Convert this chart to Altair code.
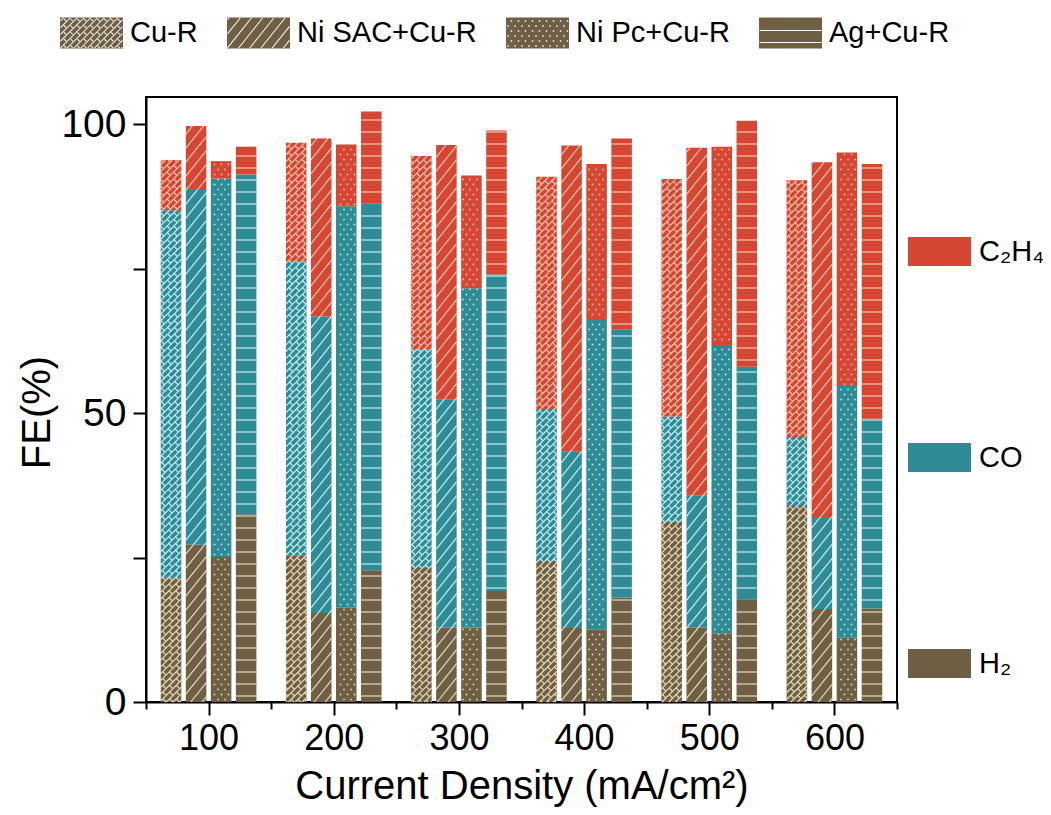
import math
import altair as alt
import numpy as np
import pandas as pd

# ---------------- data ----------------
densities = [100, 200, 300, 400, 500, 600]
catalysts = ["Cu-R", "Ni SAC+Cu-R", "Ni Pc+Cu-R", "Ag+Cu-R"]
products = ["H₂", "CO", "C₂H₄"]          # stacking order bottom -> top

h2_cur = [21.5, 25.4, 23.2, 24.4, 31.2, 33.9]
co_cur = [63.6, 50.8, 37.8, 26.3, 18.2, 11.8]
c2h4_cur = [8.7, 20.6, 33.5, 40.2, 41.1, 44.6]

h2_nisac = [27.2, 15.4, 12.9, 12.8, 12.9, 16.1]
co_nisac = [61.4, 51.3, 39.4, 30.5, 22.9, 15.9]
c2h4_nisac = [11.1, 30.8, 44.1, 53.0, 60.1, 61.4]

h2_nipc = [25.1, 16.3, 12.9, 12.5, 11.9, 11.1]
co_nipc = [65.5, 69.5, 58.7, 53.6, 49.9, 43.6]
c2h4_nipc = [3.0, 10.7, 19.5, 27.0, 34.3, 40.4]

h2_ag = [32.5, 22.8, 19.2, 18.1, 17.8, 16.2]
co_ag = [58.8, 63.5, 54.8, 46.4, 40.2, 32.8]
c2h4_ag = [4.8, 15.9, 24.9, 33.0, 42.6, 44.1]

values = {
    "Cu-R": [h2_cur, co_cur, c2h4_cur],
    "Ni SAC+Cu-R": [h2_nisac, co_nisac, c2h4_nisac],
    "Ni Pc+Cu-R": [h2_nipc, co_nipc, c2h4_nipc],
    "Ag+Cu-R": [h2_ag, co_ag, c2h4_ag],
}

y_major = [0, 50, 100]
y_minor = [25, 75]
x_minor = [50, 150, 250, 350, 450, 550, 650]

# ---------------- styling / layout ----------------
W, H = 751, 605
X_DOM = [50, 650]
Y_DOM = [0, 104.7]
OFFSETS = [-30, -10, 10, 30]
HALF = 8.2
PX = W / (X_DOM[1] - X_DOM[0])
PY = H / (Y_DOM[1] - Y_DOM[0])

FONT = "Liberation Sans"
PROD_COLORS = {"C₂H₄": "#d64733", "CO": "#2f8b96", "H₂": "#6f5f45"}
LINE_COLORS = {"C₂H₄": "#f6c4ae", "CO": "#c4eef2", "H₂": "#e6dbb8"}
PATTERN = {"Cu-R": "brick", "Ni SAC+Cu-R": "diag", "Ni Pc+Cu-R": "dots", "Ag+Cu-R": "hline"}


def clip(p, q, x0, x1, y0, y1):
    dx, dy = q[0] - p[0], q[1] - p[1]
    t0, t1 = 0.0, 1.0
    for pp, qq in ((-dx, p[0] - x0), (dx, x1 - p[0]), (-dy, p[1] - y0), (dy, y1 - p[1])):
        if pp == 0:
            if qq < 0:
                return None
        else:
            r = qq / pp
            if pp < 0:
                if r > t1:
                    return None
                t0 = max(t0, r)
            else:
                if r < t0:
                    return None
                t1 = min(t1, r)
    if t1 - t0 < 1e-6:
        return None
    return ((p[0] + t0 * dx, p[1] + t0 * dy), (p[0] + t1 * dx, p[1] + t1 * dy))


def pattern_segments(kind, x0, x1, y0, y1, gap=0.0):
    segs = []
    if kind == "hline":
        s = 12.0
        for k in range(int(math.floor(y0 / s)) - 1, int(math.ceil(y1 / s)) + 1):
            y = k * s + 6
            if y0 + 1 < y < y1 - 1:
                segs.append(((x0, y), (x1, y)))
    elif kind == "diag":
        m, s = 1.25, 14.0
        cmin, cmax = y0 - m * x1, y1 - m * x0
        for k in range(int(math.floor(cmin / s)) - 1, int(math.ceil(cmax / s)) + 1):
            c = k * s
            r = clip((x0 - 5, m * (x0 - 5) + c), (x1 + 5, m * (x1 + 5) + c), x0, x1, y0, y1)
            if r:
                segs.append(r)
    elif kind == "brick":
        pw, L = 4.8, 9.5
        r2 = math.sqrt(0.5)
        corners = [(x0, y0), (x0, y1), (x1, y0), (x1, y1)]
        us = [(a + b) * r2 for a, b in corners]
        vs = [(b - a) * r2 for a, b in corners]
        umin, umax, vmin, vmax = min(us), max(us), min(vs), max(vs)

        def xy(u, v):
            return ((u - v) * r2, (u + v) * r2)

        for k in range(int(math.floor(vmin / pw)) - 1, int(math.ceil(vmax / pw)) + 1):
            v = k * pw
            r = clip(xy(umin - 2, v), xy(umax + 2, v), x0, x1, y0, y1)
            if r:
                segs.append(r)
            for j in range(int(math.floor(umin / L)) - 1, int(math.ceil(umax / L)) + 1):
                u = (j + 0.5 * (k % 2)) * L
                r = clip(xy(u, v + gap), xy(u, v + pw - gap), x0, x1, y0, y1)
                if r:
                    segs.append(r)
    return segs


def pattern_dots(x0, x1, y0, y1):
    pts = []
    sx, sy = 7.0, 5.0
    for j in range(int(math.floor(y0 / sy)) - 1, int(math.ceil(y1 / sy)) + 1):
        y = j * sy + 2.5
        if not (y0 + 1 < y < y1 - 1):
            continue
        off = 3.5 if j % 2 else 0.0
        for i in range(int(math.floor((x0 - off) / sx)) - 1, int(math.ceil((x1 - off) / sx)) + 1):
            x = i * sx + off + 2.0
            if x0 + 1.2 < x < x1 - 1.2:
                pts.append((x, y))
    return pts


# ---------------- build tables ----------------
seg_rows, line_rows, dot_rows = [], [], []
for cat, off in zip(catalysts, OFFSETS):
    kind = PATTERN[cat]
    for di, d in enumerate(densities):
        base = 0.0
        for prod, series in zip(products, values[cat]):
            v = series[di]
            xa, xb = d + off - HALF, d + off + HALF
            ya, yb = base, base + v
            seg_rows.append(dict(catalyst=cat, density=d, product=prod, x=xa, x2=xb, y=ya, y2=yb))
            px0, px1 = (xa - X_DOM[0]) * PX, (xb - X_DOM[0]) * PX
            py0, py1 = ya * PY, yb * PY
            if kind == "dots":
                for (qx, qy) in pattern_dots(px0, px1, py0, py1):
                    dot_rows.append(dict(x=X_DOM[0] + qx / PX, y=qy / PY, col=LINE_COLORS[prod]))
            else:
                for (p, q) in pattern_segments(kind, px0, px1, py0, py1):
                    line_rows.append(dict(x=X_DOM[0] + p[0] / PX, y=p[1] / PY,
                                          x2=X_DOM[0] + q[0] / PX, y2=q[1] / PY,
                                          col=LINE_COLORS[prod]))
            base += v

seg_df = pd.DataFrame(seg_rows)
line_df = pd.DataFrame(line_rows)
dot_df = pd.DataFrame(dot_rows)

# ---------------- legend swatch paths (pattern holes in a rectangle) ----------------
SW, SH = 63.0, 31.0
RU = SW / 2


def swatch_path(kind):
    a = SH / 2 / RU
    parts = [f"M-1,{-a:.4f}L1,{-a:.4f}L1,{a:.4f}L-1,{a:.4f}Z"]
    h = 0.5
    quads = []
    if kind == "dots":
        for (x, y) in pattern_dots(0, SW, 0, SH):
            e = 0.7
            quads.append([(x - e, y - e), (x + e, y - e), (x + e, y + e), (x - e, y + e)])
    else:
        for (p, q) in pattern_segments(kind, h, SW - h, h, SH - h, gap=h + 0.3):
            dx, dy = q[0] - p[0], q[1] - p[1]
            ln = math.hypot(dx, dy)
            if ln < 0.5:
                continue
            nx, ny = -dy / ln * h, dx / ln * h
            quads.append([(p[0] + nx, p[1] + ny), (q[0] + nx, q[1] + ny),
                          (q[0] - nx, q[1] - ny), (p[0] - nx, p[1] - ny)])
    for quad in quads:
        pts = [((x - RU) / RU, -(y - SH / 2) / RU) for x, y in quad]
        area = sum(pts[i][0] * pts[(i + 1) % 4][1] - pts[(i + 1) % 4][0] * pts[i][1] for i in range(4))
        if area > 0:
            pts = pts[::-1]
        parts.append("M" + "L".join(f"{x:.4f},{y:.4f}" for x, y in pts) + "Z")
    return "".join(parts)


shape_paths = [swatch_path(PATTERN[c]) for c in catalysts]
legend_df = pd.DataFrame({"catalyst": catalysts})
xminor_df = pd.DataFrame({"v": x_minor})
yminor_df = pd.DataFrame({"v": y_minor})

# ---------------- chart ----------------
xs = alt.Scale(domain=X_DOM, nice=False, zero=False)
ys = alt.Scale(domain=Y_DOM, nice=False, zero=False)

bars = alt.Chart(seg_df).mark_bar(strokeWidth=0).encode(
    x=alt.X("x:Q", scale=xs, axis=alt.Axis(
        orient="bottom", values=densities, format="d", title="Current Density (mA/cm²)",
        labelFontSize=36, titleFontSize=40, tickSize=13, tickWidth=2,
        domainWidth=2, labelPadding=6, titlePadding=10, grid=False,
        labelFlush=False)),
    x2="x2:Q",
    y=alt.Y("y:Q", scale=ys, axis=alt.Axis(
        orient="left", values=y_major, title="FE(%)",
        labelFontSize=39, titleFontSize=40, tickSize=13, tickWidth=2,
        domainWidth=2, labelPadding=7, titlePadding=3, titleY=315, grid=False)),
    y2="y2:Q",
    color=alt.Color("product:N", scale=alt.Scale(
        domain=["C₂H₄", "CO", "H₂"],
        range=[PROD_COLORS["C₂H₄"], PROD_COLORS["CO"], PROD_COLORS["H₂"]]),
        legend=alt.Legend(
            title=None, orient="none", legendX=762, legendY=123, direction="vertical",
            symbolType="M-1,-0.46L1,-0.46L1,0.46L-1,0.46Z", symbolSize=3969,
            symbolStrokeWidth=0, labelFontSize=29, labelOffset=8, rowPadding=159,
            labelFont=FONT, labelColor="black", padding=0)),
)

lines = alt.Chart(line_df).mark_rule(strokeWidth=1.2).encode(
    x=alt.X("x:Q", scale=xs, axis=None), x2="x2:Q",
    y=alt.Y("y:Q", scale=ys, axis=None), y2="y2:Q",
    stroke=alt.Stroke("col:N", scale=None),
)

dots = alt.Chart(dot_df).mark_square(size=2.6, opacity=1).encode(
    x=alt.X("x:Q", scale=xs, axis=None),
    y=alt.Y("y:Q", scale=ys, axis=None),
    fill=alt.Fill("col:N", scale=None),
)

# invisible layers that only carry the unlabeled minor-tick axes
xminor = alt.Chart(xminor_df).mark_tick(opacity=0).encode(
    x=alt.X("v:Q", scale=xs, axis=alt.Axis(
        orient="bottom", values=x_minor, labels=False, domain=False,
        tickSize=7, tickWidth=2, title=None, grid=False)),
)
yminor = alt.Chart(yminor_df).mark_tick(opacity=0).encode(
    y=alt.Y("v:Q", scale=ys, axis=alt.Axis(
        orient="left", values=y_minor, labels=False, domain=False,
        tickSize=13, tickWidth=2, title=None, grid=False)),
)

legend_layer = alt.Chart(legend_df).mark_point(filled=True, size=3969, color="#6f5f45").encode(
    x=alt.value(0), y=alt.value(0), opacity=alt.value(0),
    shape=alt.Shape("catalyst:N", scale=alt.Scale(domain=catalysts, range=shape_paths),
                    legend=alt.Legend(
                        title=None, orient="none", legendX=-86, legendY=-96,
                        direction="horizontal", symbolSize=3969, symbolOpacity=1,
                        symbolFillColor="#6f5f45", symbolStrokeWidth=0,
                        labelFontSize=29, labelOffset=7, columnPadding=29,
                        labelLimit=400, labelFont=FONT, labelColor="black", padding=0)),
)

chart = alt.layer(bars, lines, dots, xminor, yminor, legend_layer).resolve_axis(
    x="independent", y="independent"
).properties(
    width=W, height=H,
    autosize=alt.AutoSizeParams(type="none"),
    padding={"left": 138, "top": 89, "right": 146, "bottom": 105},
    background="white",
).configure_view(
    stroke="black", strokeWidth=2
).configure_axis(
    labelFont=FONT, titleFont=FONT, labelColor="black", titleColor="black",
    domainColor="black", tickColor="black", titleFontWeight="normal",
).configure_legend(
    labelFont=FONT,
)

chart.save("out.html", embed_options={"renderer": "svg", "actions": False})
